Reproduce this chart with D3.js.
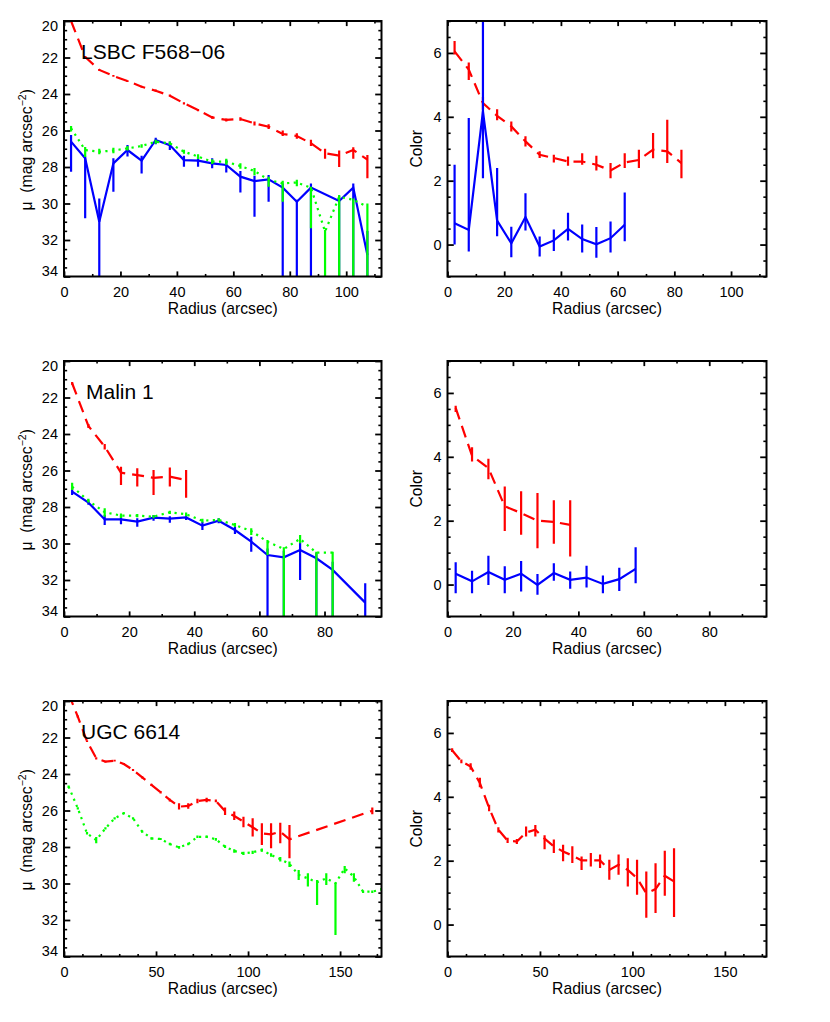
<!DOCTYPE html>
<html><head><meta charset="utf-8">
<script src="https://cdn.jsdelivr.net/npm/d3@7/dist/d3.min.js"></script>
<style>body{margin:0;background:#fff}</style>
</head><body>
<svg id="c" width="830" height="1022"></svg>
<script>
// ---------------- DATA ----------------
// LSBC F568-06 surface brightness
const rF568 = [2.5,7.5,12.5,17.5,22.5,27.5,32.5,37.5,42.5,47.5,52.5,57.5,62.5,67.5,72.5,77.5,82.5,87.5,92.5,97.5,102.5,107.5];
const f568Red      = [20.0,21.97,22.68,23.01,23.29,23.6,23.82,24.09,24.51,24.88,25.28,25.42,25.37,25.61,25.79,26.19,26.3,26.7,27.25,27.38,27.07,27.6];
const f568RedErrLo = [19.95,21.92,22.63,22.96,23.24,23.55,23.76,24.03,24.45,24.82,25.2,25.34,25.28,25.5,25.66,26.0,26.15,26.5,27.0,27.1,26.92,27.34];
const f568RedErrHi = [20.05,22.02,22.73,23.06,23.34,23.65,23.88,24.15,24.57,24.95,25.36,25.5,25.46,25.72,25.92,26.3,26.45,26.85,27.55,28.0,27.55,28.62];
const f568Blue      = [26.61,27.52,31.0,27.8,27.07,27.65,26.52,26.8,27.62,27.65,27.8,27.89,28.53,28.77,28.68,29.13,29.9,29.13,null,29.86,29.13,32.82];
const f568BlueErrLo = [26.25,27.43,29.72,27.52,26.8,27.38,26.4,26.6,27.38,27.43,27.52,27.6,28.22,28.48,28.44,28.9,29.8,28.9,null,29.6,28.9,31.5];
const f568BlueErrHi = [28.26,30.81,36,29.35,27.43,28.35,26.75,27.07,27.98,27.98,28.07,28.3,29.4,30.72,29.9,36,36,36,null,36,36,36];
const f568Green      = [25.88,27.07,27.16,27.1,26.98,26.85,26.61,26.7,27.16,27.43,27.71,27.71,27.95,28.22,28.7,28.9,28.85,29.13,31.54,29.63,29.8,30.17];
const f568GreenErrLo = [25.75,26.9,27.0,26.95,26.85,26.75,26.5,26.6,27.05,27.3,27.58,27.55,27.8,28.05,28.53,28.75,28.7,29.08,31.45,29.53,29.72,30.0];
const f568GreenErrHi = [26.05,27.45,27.3,27.25,27.1,26.95,26.72,26.8,27.28,27.56,27.84,27.87,28.1,28.45,29.08,29.9,29.05,31.36,36,36,36,36];

// LSBC F568-06 colour
const rF568ColBlue = [2.5,7.5,12.5,17.5,22.5,27.5,32.5,37.5,42.5,47.5,52.5,57.5,62.5];
const f568ColBlue      = [0.67,0.46,4.17,0.75,0.04,0.86,-0.06,0.13,0.49,0.17,0.01,0.2,0.62];
const f568ColBlueErrLo = [0.0,-0.22,2.08,0.26,-0.4,0.44,-0.37,-0.2,0.13,-0.25,-0.41,-0.25,0.1];
const f568ColBlueErrHi = [2.5,3.96,7.5,2.4,0.56,1.61,0.25,0.47,1.0,0.63,0.55,0.72,1.63];
const rF568ColRed = [2.5,7.5,12.5,17.5,22.5,27.5,32.5,37.5,42.5,47.5,52.5,57.5,62.5,67.5,72.5,77.5,82.5];
const f568ColRed      = [6.05,5.48,4.43,4.03,3.7,3.23,2.81,2.71,2.6,2.6,2.5,2.32,2.57,2.65,2.97,2.92,2.55];
const f568ColRedErrLo = [5.95,5.15,4.22,3.89,3.54,3.07,2.71,2.57,2.47,2.5,2.32,2.08,2.4,2.4,2.7,2.55,2.08];
const f568ColRedErrHi = [6.37,5.7,4.62,4.24,3.85,3.39,2.92,2.81,2.76,2.86,2.78,2.55,2.86,2.97,3.49,3.91,2.97];

// Malin 1 surface brightness
const rMalin = [2.5,7.5,12.5,17.5,22.5,27.5,32.5,37.5,42.5,47.5,52.5,57.5,62.5,67.5,72.5,77.5,82.5,87.5,92.5];
const malinBlue      = [27.16,27.76,28.68,28.68,28.8,28.58,28.64,28.57,29.02,28.75,29.26,29.9,30.63,30.76,30.36,30.81,31.45,null,33.24];
const malinBlueErrLo = [26.98,27.65,28.44,28.45,28.62,28.44,28.5,28.4,28.81,28.62,29.08,29.63,30.27,30.4,29.9,30.5,31.0,null,32.18];
const malinBlueErrHi = [27.34,27.88,28.99,28.95,29.08,28.75,28.86,28.71,29.26,28.89,29.48,30.45,36,36,32.0,36,36,null,36];
const rMalinGreen = [2.5,7.5,12.5,17.5,22.5,27.5,32.5,37.5,42.5,47.5,52.5,57.5,62.5,67.5,72.5,77.5,82.5];
const malinGreen      = [26.89,27.65,28.29,28.47,28.47,28.53,28.29,28.4,28.75,28.71,28.99,29.32,29.9,30.3,29.75,30.5,30.5];
const malinGreenErrLo = [26.67,27.55,28.07,28.35,28.38,28.44,28.2,28.3,28.65,28.62,28.88,29.17,29.81,30.2,29.53,30.45,30.45];
const malinGreenErrHi = [27.07,27.75,28.53,28.6,28.56,28.62,28.38,28.5,28.85,28.8,29.1,29.53,30.63,36,29.99,36,36];
const rMalinRed = [2.5,7.5,12.5,17.5,22.5,27.5,32.5,37.5];
const malinRed      = [21.22,23.56,24.69,26.12,26.25,26.4,26.34,26.52];
const malinRedErrLo = [21.15,23.45,24.55,25.79,25.87,25.97,25.83,25.97];
const malinRedErrHi = [21.3,23.67,24.85,26.79,26.88,27.34,26.88,27.49];

// Malin 1 colour
const rMalinColBlue = [2.5,7.5,12.5,17.5,22.5,27.5,32.5,37.5,42.5,47.5,52.5,57.5];
const malinColBlue      = [0.34,0.1,0.39,0.15,0.34,-0.01,0.36,0.15,0.22,0.02,0.17,0.49];
const malinColBlueErrLo = [-0.27,-0.27,-0.01,-0.27,-0.22,-0.32,0.12,-0.13,-0.09,-0.27,-0.2,0.04];
const malinColBlueErrHi = [0.7,0.43,0.9,0.57,0.74,0.33,0.67,0.41,0.59,0.28,0.53,1.17];
const rMalinColRed = [2.5,7.5,12.5,17.5,22.5,27.5,32.5,37.5];
const malinColRed      = [5.53,4.03,3.65,2.45,2.24,2.0,1.96,1.87];
const malinColRedErrLo = [5.4,3.85,3.3,1.68,1.56,1.14,1.28,0.88];
const malinColRedErrHi = [5.6,4.3,3.94,3.07,2.92,2.87,2.64,2.64];

// UGC 6614 surface brightness
const rUgcRed = [2.5,7.5,12.5,17.5,22.5,27.5,32.5,37.5,42.5,47.5,52.5,57.5,62.5,67.5,72.5,77.5,82.5,87.5,92.5,97.5,102.5,107.5,112.5,117.5,122.5,167.5];
const ugcRed      = [19.6,20.86,22.2,23.14,23.32,23.27,23.45,23.78,24.18,24.6,25.0,25.42,25.79,25.75,25.48,25.42,25.48,26.03,26.3,26.61,26.92,27.25,27.31,27.16,27.58,26.01];
const ugcRedErrLo = [19.55,20.8,22.15,23.08,23.27,23.22,23.4,23.72,24.12,24.54,24.93,25.35,25.6,25.6,25.35,25.3,25.4,25.84,26.06,26.34,26.43,26.7,26.7,26.67,26.79,25.84];
const ugcRedErrHi = [19.65,20.92,22.25,23.2,23.37,23.32,23.5,23.84,24.24,24.66,25.07,25.5,25.95,25.9,25.6,25.55,25.55,26.25,26.52,26.92,27.43,27.89,28.07,27.8,28.62,26.2];
const rUgcGreen = [2.5,7.5,12.5,17.5,22.5,27.5,32.5,37.5,42.5,47.5,52.5,57.5,62.5,67.5,72.5,77.5,82.5,87.5,92.5,97.5,102.5,107.5,112.5,117.5,122.5,127.5,132.5,137.5,142.5,147.5,152.5,157.5,162.5,167.5,172.5];
const ugcGreen      = [24.69,25.88,27.25,27.62,26.98,26.43,26.15,26.43,27.16,27.53,27.56,27.84,28.02,27.84,27.44,27.44,27.58,27.98,28.22,28.35,28.29,28.17,28.44,28.67,28.93,29.53,29.72,29.93,29.72,29.99,29.17,29.63,30.45,30.45,30.32];
const ugcGreenErrLo = [24.63,25.82,27.18,27.45,26.92,26.37,26.09,26.37,27.1,27.47,27.5,27.77,27.95,27.77,27.37,27.37,27.5,27.9,28.13,28.26,28.2,28.08,28.34,28.55,28.8,29.26,29.44,29.81,29.44,29.95,29.04,29.44,30.38,30.38,30.25];
const ugcGreenErrHi = [24.75,25.94,27.32,27.8,27.04,26.49,26.21,26.49,27.22,27.59,27.62,27.91,28.09,27.91,27.51,27.51,27.66,28.06,28.31,28.44,28.38,28.26,28.54,28.79,29.1,29.81,30.17,31.18,30.08,32.82,29.44,29.9,30.52,30.52,30.39];

// UGC 6614 colour
const rUgcCol = [2.5,7.5,12.5,17.5,22.5,27.5,32.5,37.5,42.5,47.5,52.5,57.5,62.5,67.5,72.5,77.5,82.5,87.5,92.5,97.5,102.5,107.5,112.5,117.5,122.5];
const ugcColRed      = [5.46,5.11,4.95,4.43,3.65,2.97,2.63,2.6,2.88,2.97,2.69,2.45,2.29,2.16,2.01,2.01,2.01,1.71,1.87,1.71,1.45,0.98,1.11,1.53,1.35];
const ugcColRedErrLo = [5.4,5.05,4.85,4.3,3.55,2.88,2.55,2.52,2.76,2.76,2.36,2.24,1.98,1.93,1.71,1.82,1.77,1.4,1.56,1.19,0.93,0.21,0.36,0.9,0.24];
const ugcColRedErrHi = [5.52,5.17,5.05,4.6,3.75,3.05,2.72,2.68,3.07,3.12,2.8,2.66,2.5,2.45,2.13,2.24,2.19,2.03,2.19,2.08,2.03,1.66,1.92,2.31,2.39];

// Axis settings / labels
const galaxyNames = ["LSBC F568\u221206", "Malin 1", "UGC 6614"];
const radiusMax = [112.5, 97.5, 172.5];
const radiusMajor = [20, 20, 50];
const muTicks = [20,22,24,26,28,30,32,34];
const colorTicks = [0,2,4,6];
const xTitle = "Radius (arcsec)";
const colorTitle = "Color";

// ---------------- DRAWING ----------------
const FONT = '"Liberation Sans", Arial, Helvetica, sans-serif';
const svg = d3.select('#c');
const RED = '#ff0000', BLUE = '#0000ff', GREEN = '#00ff00';
const DASH = '12,7', DOT = '2.2,4.4';

const rowTops = [21, 361, 701];
const H = 255.5;
const cols = [{left:64, width:317.5}, {left:447.5, width:319}];
let clipId = 0;

function drawPanel(row, col, opts) {
  const top = rowTops[row], {left, width} = cols[col];
  const bottom = top + H;
  const xmax = radiusMax[row], xMaj = radiusMajor[row];
  const x = d3.scaleLinear().domain([0, xmax]).range([left, left + width]);
  const y = d3.scaleLinear().domain(opts.ydom).range([top, bottom]);
  const g = svg.append('g');

  const xMajVals = d3.range(0, xmax + 1e-6, xMaj);
  const xMinVals = d3.range(0, xmax + 1e-6, 10).filter(v => Math.abs(v / xMaj - Math.round(v / xMaj)) > 1e-6);
  const ylo = Math.min(...opts.ydom), yhi = Math.max(...opts.ydom);
  const yMinVals = d3.range(ylo, yhi + 1e-6, 0.5).filter(v => !opts.yticks.some(t => Math.abs(t - v) < 1e-6));

  const styleAxis = (sel, w) => {
    sel.select('.domain').remove();
    sel.selectAll('.tick line').attr('stroke', '#000').attr('stroke-width', w);
    sel.attr('font-family', FONT).attr('font-size', 14.5);
    sel.selectAll('.tick text').attr('fill', '#000');
  };
  const XT = 5.1, YT = 6.3;
  // bottom
  g.append('g').attr('transform', `translate(0,${bottom})`)
    .call(d3.axisBottom(x).tickValues(xMajVals).tickSizeInner(-XT).tickSizeOuter(0).tickPadding(10).tickFormat(d3.format('d')))
    .call(s => styleAxis(s, 1.8));
  g.append('g').attr('transform', `translate(0,${bottom})`)
    .call(d3.axisBottom(x).tickValues(xMinVals).tickSizeInner(-XT / 2).tickSizeOuter(0).tickFormat(''))
    .call(s => styleAxis(s, 1.6));
  // top
  g.append('g').attr('transform', `translate(0,${top})`)
    .call(d3.axisTop(x).tickValues(xMajVals).tickSizeInner(-XT).tickSizeOuter(0).tickFormat(''))
    .call(s => styleAxis(s, 1.8));
  g.append('g').attr('transform', `translate(0,${top})`)
    .call(d3.axisTop(x).tickValues(xMinVals).tickSizeInner(-XT / 2).tickSizeOuter(0).tickFormat(''))
    .call(s => styleAxis(s, 1.6));
  // left
  const gl = g.append('g').attr('transform', `translate(${left},0)`)
    .call(d3.axisLeft(y).tickValues(opts.yticks).tickSizeInner(-YT).tickSizeOuter(0).tickPadding(6).tickFormat(d3.format('d')))
    .call(s => styleAxis(s, 1.8));
  gl.selectAll('.tick text').attr('y', d => {
    const py = y(d);
    if (py - top < 4) return 5;
    if (bottom - py < 4) return -6;
    return 0;
  });
  g.append('g').attr('transform', `translate(${left},0)`)
    .call(d3.axisLeft(y).tickValues(yMinVals).tickSizeInner(-YT / 2).tickSizeOuter(0).tickFormat(''))
    .call(s => styleAxis(s, 1.6));
  // right
  g.append('g').attr('transform', `translate(${left + width},0)`)
    .call(d3.axisRight(y).tickValues(opts.yticks).tickSizeInner(-YT).tickSizeOuter(0).tickFormat(''))
    .call(s => styleAxis(s, 1.8));
  g.append('g').attr('transform', `translate(${left + width},0)`)
    .call(d3.axisRight(y).tickValues(yMinVals).tickSizeInner(-YT / 2).tickSizeOuter(0).tickFormat(''))
    .call(s => styleAxis(s, 1.6));

  // data
  const id = 'clip' + (clipId++);
  svg.append('clipPath').attr('id', id).append('rect')
    .attr('x', left).attr('y', top).attr('width', width).attr('height', H);
  const dg = g.append('g').attr('clip-path', `url(#${id})`);
  opts.series.forEach(s => {
    const pts = s.r.map((r, i) => ({r, v: s.v[i], lo: s.lo[i], hi: s.hi[i]})).filter(p => p.v != null);
    dg.append('path').datum(pts)
      .attr('d', d3.line().x(p => x(p.r)).y(p => y(p.v)))
      .attr('fill', 'none').attr('stroke', s.color).attr('stroke-width', 2.2)
      .attr('stroke-dasharray', s.dash || null);
    dg.selectAll(null).data(pts).join('line')
      .attr('x1', p => x(p.r)).attr('x2', p => x(p.r))
      .attr('y1', p => y(p.lo)).attr('y2', p => y(p.hi))
      .attr('stroke', s.color).attr('stroke-width', 2.2);
  });

  // frame
  g.append('rect').attr('x', left).attr('y', top).attr('width', width).attr('height', H)
    .attr('fill', 'none').attr('stroke', '#000').attr('stroke-width', 2);

  // titles
  const TS = 15.7;
  g.append('text').attr('x', left + width / 2).attr('y', bottom + 37)
    .attr('text-anchor', 'middle').attr('font-family', FONT).attr('font-size', TS).text(xTitle);
  if (opts.muTitle) {
    const t = g.append('text').attr('transform', `translate(${left - 32.5},${(top + bottom) / 2 + 1}) rotate(-90)`)
      .attr('text-anchor', 'middle').attr('font-family', FONT).attr('font-size', TS)
      .style('white-space', 'pre');
    t.append('tspan').text('\u03bc  (mag arcsec');
    t.append('tspan').attr('font-size', 10.5).attr('dy', -6).text('\u22122');
    t.append('tspan').attr('dy', 6).text(')');
  } else {
    g.append('text').attr('transform', `translate(${left - 25.5},${(top + bottom) / 2}) rotate(-90)`)
      .attr('text-anchor', 'middle').attr('font-family', FONT).attr('font-size', TS).text(colorTitle);
  }
  if (opts.label) {
    g.append('text').attr('x', left + opts.labelDx).attr('y', top + 37.5)
      .attr('font-family', FONT).attr('font-size', 21).text(opts.label);
  }
}

const S = (r, v, lo, hi, color, dash) => ({r, v, lo, hi, color, dash});

drawPanel(0, 0, {ydom: [20, 34], yticks: muTicks, muTitle: true, label: galaxyNames[0], labelDx: 17, series: [
  S(rF568, f568Red, f568RedErrLo, f568RedErrHi, RED, DASH),
  S(rF568, f568Blue, f568BlueErrLo, f568BlueErrHi, BLUE),
  S(rF568, f568Green, f568GreenErrLo, f568GreenErrHi, GREEN, DOT)]});
drawPanel(0, 1, {ydom: [7, -1], yticks: colorTicks, series: [
  S(rF568ColRed, f568ColRed, f568ColRedErrLo, f568ColRedErrHi, RED, DASH),
  S(rF568ColBlue, f568ColBlue, f568ColBlueErrLo, f568ColBlueErrHi, BLUE)]});
drawPanel(1, 0, {ydom: [20, 34], yticks: muTicks, muTitle: true, label: galaxyNames[1], labelDx: 22, series: [
  S(rMalinRed, malinRed, malinRedErrLo, malinRedErrHi, RED, DASH),
  S(rMalin, malinBlue, malinBlueErrLo, malinBlueErrHi, BLUE),
  S(rMalinGreen, malinGreen, malinGreenErrLo, malinGreenErrHi, GREEN, DOT)]});
drawPanel(1, 1, {ydom: [7, -1], yticks: colorTicks, series: [
  S(rMalinColRed, malinColRed, malinColRedErrLo, malinColRedErrHi, RED, DASH),
  S(rMalinColBlue, malinColBlue, malinColBlueErrLo, malinColBlueErrHi, BLUE)]});
drawPanel(2, 0, {ydom: [20, 34], yticks: muTicks, muTitle: true, label: galaxyNames[2], labelDx: 17, series: [
  S(rUgcRed, ugcRed, ugcRedErrLo, ugcRedErrHi, RED, DASH),
  S(rUgcGreen, ugcGreen, ugcGreenErrLo, ugcGreenErrHi, GREEN, DOT)]});
drawPanel(2, 1, {ydom: [7, -1], yticks: colorTicks, series: [
  S(rUgcCol, ugcColRed, ugcColRedErrLo, ugcColRedErrHi, RED, DASH)]});
</script>
</body></html>
